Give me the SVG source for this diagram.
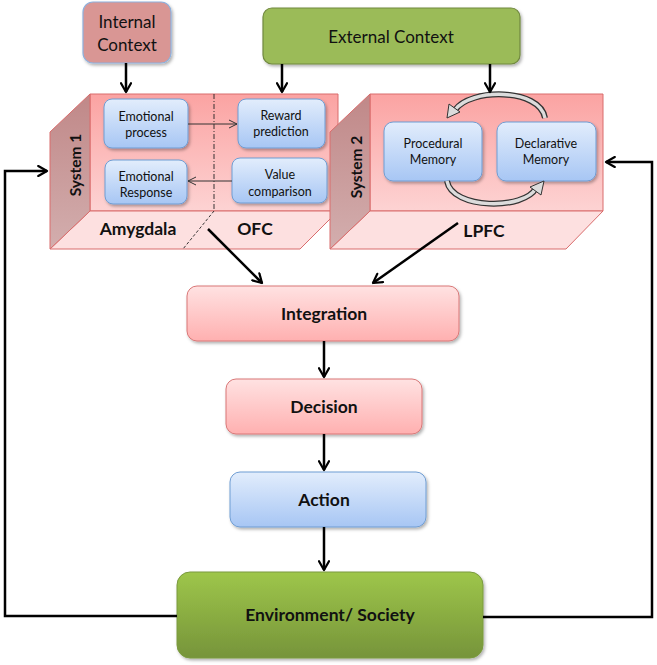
<svg xmlns="http://www.w3.org/2000/svg" width="657" height="665" viewBox="0 0 657 665">
<defs>
  <linearGradient id="gPinkFront" x1="0" y1="0" x2="0" y2="1">
    <stop offset="0" stop-color="#fba3a2"/>
    <stop offset="1" stop-color="#fdd3d3"/>
  </linearGradient>
  <linearGradient id="gSide" x1="0" y1="0" x2="0" y2="1">
    <stop offset="0" stop-color="#c08888"/>
    <stop offset="1" stop-color="#d3aeae"/>
  </linearGradient>
  <linearGradient id="gBlue" x1="0" y1="0" x2="0" y2="1">
    <stop offset="0" stop-color="#e2edfc"/>
    <stop offset="1" stop-color="#a7c6f4"/>
  </linearGradient>
  <linearGradient id="gPink" x1="0" y1="0" x2="0" y2="1">
    <stop offset="0" stop-color="#ffe2e2"/>
    <stop offset="1" stop-color="#ffb0b0"/>
  </linearGradient>
  <linearGradient id="gGreen" x1="0" y1="0" x2="0" y2="1">
    <stop offset="0" stop-color="#9ec64a"/>
    <stop offset="1" stop-color="#76943a"/>
  </linearGradient>
  <filter id="sh" x="-10%" y="-10%" width="130%" height="130%">
    <feDropShadow dx="1.5" dy="2" stdDeviation="1.5" flood-color="#000" flood-opacity="0.3"/>
  </filter>
  <marker id="ah" viewBox="0 0 10 10" refX="8" refY="5" markerWidth="5" markerHeight="5" orient="auto" markerUnits="strokeWidth">
    <path d="M1,1 L8,5 L1,9" fill="none" stroke="#000" stroke-width="1.8" stroke-linecap="round" stroke-linejoin="round"/>
  </marker>
  <marker id="ahThin" viewBox="0 0 10 10" refX="9" refY="5" markerWidth="10" markerHeight="10" orient="auto" markerUnits="strokeWidth">
    <path d="M1,1 L9,5 L1,9" fill="none" stroke="#333" stroke-width="1"/>
  </marker>
  <style>
    text { font-family: Lato, "Liberation Sans", sans-serif; fill: #111; text-anchor: middle; }
    .big { font-size: 17px; }
    .sm { font-size: 12.5px; }
    .bold { font-weight: bold; font-size: 17.5px; }
    .sys { font-weight: bold; font-size: 15.5px; }
    .blue { fill: url(#gBlue); stroke: #6f9dd3; stroke-width: 1; }
    .pinkbox { fill: url(#gPink); stroke: #d97777; stroke-width: 1; }
    .front { fill: url(#gPinkFront); stroke: #d96c6c; stroke-width: 1; }
    .bottom { fill: #fde0e0; stroke: #d96c6c; stroke-width: 1; }
    .side { fill: url(#gSide); stroke: #d96c6c; stroke-width: 1; }
    .conn { fill: none; stroke: #000; stroke-width: 2.5; }
    .thin { fill: none; stroke: #333; stroke-width: 1; }
  </style>
</defs>

<g id="internal-context">
  <rect x="83" y="2" width="88" height="61" rx="10" fill="#d99694" stroke="#8eb0dc" stroke-width="1.2" filter="url(#sh)"/>
  <text class="big" x="127" y="28">Internal</text>
  <text class="big" x="127" y="51">Context</text>
</g>

<g id="external-context">
  <rect x="263" y="8" width="257" height="56" rx="9" fill="#9bbb59" stroke="#71893f" stroke-width="1.2" filter="url(#sh)"/>
  <text class="big" x="391" y="43">External Context</text>
</g>

<g id="system1">
  <polygon class="front" points="90,94 338,94 338,211 90,211"/>
  <polygon class="bottom" points="90,211 338,211 300,249 50,249"/>
  <polygon class="side" points="90,94 50,132 50,249 90,211"/>
  <line x1="214" y1="94" x2="214" y2="211" stroke="#222" stroke-width="0.9" stroke-dasharray="5,2,1,2"/>
  <line x1="214" y1="211" x2="183" y2="249" stroke="#222" stroke-width="0.9" stroke-dasharray="3,2"/>
  <text class="sys" transform="translate(81,165) rotate(-90)">System 1</text>
  <text class="bold" x="138" y="235">Amygdala</text>
  <text class="bold" x="255" y="235">OFC</text>
</g>

<g id="emotional-process">
  <rect class="blue" x="104" y="99" width="84" height="49" rx="8" filter="url(#sh)"/>
  <text class="sm" x="146" y="121">Emotional</text>
  <text class="sm" x="146" y="137">process</text>
</g>
<g id="reward-prediction">
  <rect class="blue" x="238" y="99" width="87" height="49" rx="8" filter="url(#sh)"/>
  <text class="sm" x="281" y="120">Reward</text>
  <text class="sm" x="281" y="136">prediction</text>
</g>
<g id="emotional-response">
  <rect class="blue" x="105" y="160" width="82" height="44" rx="8" filter="url(#sh)"/>
  <text class="sm" x="146" y="181">Emotional</text>
  <text class="sm" x="146" y="197">Response</text>
</g>
<g id="value-comparison">
  <rect class="blue" x="232" y="158" width="95" height="45" rx="8" filter="url(#sh)"/>
  <text class="sm" x="280" y="179">Value</text>
  <text class="sm" x="280" y="196">comparison</text>
</g>

<g id="system2">
  <polygon class="front" points="370,94 603,94 603,211 370,211"/>
  <polygon class="bottom" points="370,211 603,211 566,249 330,249"/>
  <polygon class="side" points="370,94 330,132 330,249 370,211"/>
  <text class="sys" transform="translate(362,167) rotate(-90)">System 2</text>
  <text class="bold" x="484" y="237">LPFC</text>
</g>

<g id="procedural-memory">
  <rect class="blue" x="384" y="122" width="98" height="59" rx="9" filter="url(#sh)"/>
  <text class="sm" x="433" y="148">Procedural</text>
  <text class="sm" x="433" y="164">Memory</text>
</g>
<g id="declarative-memory">
  <rect class="blue" x="497" y="122" width="99" height="59" rx="9" filter="url(#sh)"/>
  <text class="sm" x="546" y="148">Declarative</text>
  <text class="sm" x="546" y="164">Memory</text>
</g>

<g id="memory-cycle">
  <path d="M545,118 C540,88 470,88 455,110" fill="none" stroke="#333" stroke-width="6"/>
  <path d="M545,118 C540,88 470,88 455,110" fill="none" stroke="#dcdcdc" stroke-width="3.5"/>
  <polygon points="447,118 449,104 460,112" fill="#dcdcdc" stroke="#333" stroke-width="1"/>
  <path d="M447,181 C452,210 525,210 536,188" fill="none" stroke="#333" stroke-width="6"/>
  <path d="M447,181 C452,210 525,210 536,188" fill="none" stroke="#dcdcdc" stroke-width="3.5"/>
  <polygon points="544,181 541,195 530,187" fill="#dcdcdc" stroke="#333" stroke-width="1"/>
</g>

<g id="integration">
  <rect class="pinkbox" x="187" y="286" width="272" height="55" rx="10" filter="url(#sh)"/>
  <text class="bold" x="324" y="320">Integration</text>
</g>
<g id="decision">
  <rect class="pinkbox" x="226" y="379" width="196" height="55" rx="10" filter="url(#sh)"/>
  <text class="bold" x="324" y="413">Decision</text>
</g>
<g id="action">
  <rect class="blue" x="230" y="472" width="196" height="55" rx="10" filter="url(#sh)"/>
  <text class="bold" x="324" y="506">Action</text>
</g>
<g id="environment">
  <rect x="177" y="572" width="306" height="86" rx="13" fill="url(#gGreen)" stroke="#7a9a3e" stroke-width="1" filter="url(#sh)"/>
  <text class="bold" x="330" y="621">Environment/ Society</text>
</g>

<g id="connectors">
  <line class="conn" x1="126" y1="63" x2="126" y2="92" marker-end="url(#ah)"/>
  <line class="conn" x1="282" y1="64" x2="282" y2="92" marker-end="url(#ah)"/>
  <line class="conn" x1="490" y1="64" x2="490" y2="92" marker-end="url(#ah)"/>
  <line class="thin" x1="188" y1="124" x2="237" y2="124" marker-end="url(#ahThin)"/>
  <line class="thin" x1="232" y1="181" x2="188" y2="181" marker-end="url(#ahThin)"/>
  <line class="conn" x1="208" y1="229" x2="262" y2="283" marker-end="url(#ah)"/>
  <line class="conn" x1="458" y1="223" x2="373" y2="283" marker-end="url(#ah)"/>
  <line class="conn" x1="324" y1="341" x2="324" y2="377" marker-end="url(#ah)"/>
  <line class="conn" x1="324" y1="434" x2="324" y2="470" marker-end="url(#ah)"/>
  <line class="conn" x1="324" y1="527" x2="324" y2="570" marker-end="url(#ah)"/>
  <polyline class="conn" points="177,616 5,616 5,171 47,171" marker-end="url(#ah)"/>
  <polyline class="conn" points="483,617 652,617 652,162 606,162" marker-end="url(#ah)"/>
</g>
</svg>
